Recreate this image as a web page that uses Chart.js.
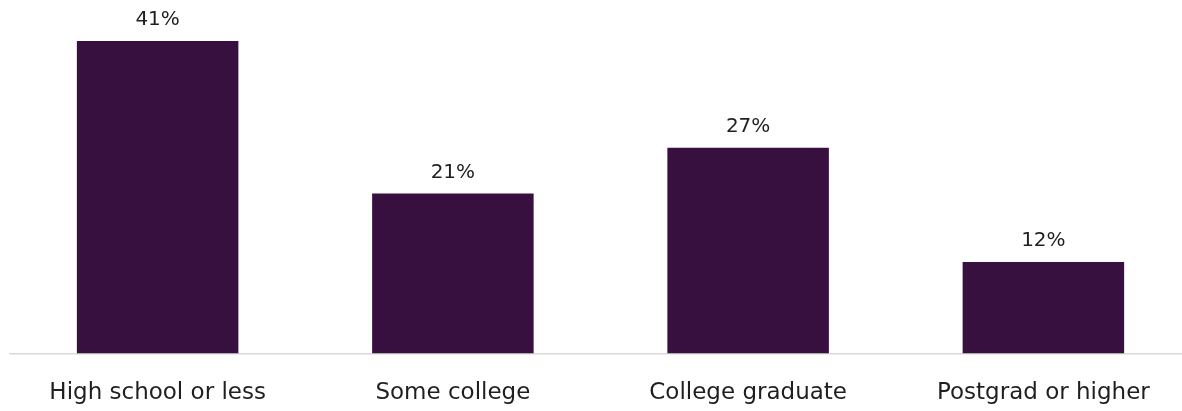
<!DOCTYPE html>
<html>
<head>
<meta charset="utf-8">
<script src="https://cdn.jsdelivr.net/npm/chart.js@4"></script>
<style>
    html, body { margin: 0; padding: 0; background: #fff; overflow: hidden; }
    #wrap { width: 1191px; height: 411px; }
</style>
</head>
<body>
<div id="wrap"><canvas id="eduChart" width="1191" height="411"></canvas></div>
<script>
// Share by education level
const categories = ['High school or less', 'Some college', 'College graduate', 'Postgrad or higher'];
const shares = [41, 21, 27, 12];

const barColor = '#37103f';
const textColor = '#1f1f1f';

// Draws the value above each bar
const valueLabels = {
    id: 'valueLabels',
    afterDatasetsDraw(chart) {
        const ctx = chart.ctx;
        const meta = chart.getDatasetMeta(0);
        ctx.save();
        ctx.font = '20px "DejaVu Sans"';
        ctx.fillStyle = textColor;
        ctx.textAlign = 'center';
        ctx.textBaseline = 'middle';
        meta.data.forEach((bar, i) => {
            ctx.fillText(shares[i] + '%', bar.x, bar.y - 21);
        });
        ctx.restore();
    }
};

function createChart() {
    const ctx = document.getElementById('eduChart').getContext('2d');

    new Chart(ctx, {
        type: 'bar',
        data: {
            labels: categories,
            datasets: [{
                data: shares,
                backgroundColor: barColor,
                borderWidth: 0,
                categoryPercentage: 1,
                barPercentage: 0.547
            }]
        },
        options: {
            responsive: false,
            animation: false,
            layout: {
                padding: { left: 10, right: 0, top: 10.6, bottom: 0 }
            },
            plugins: {
                legend: { display: false },
                tooltip: { enabled: false }
            },
            scales: {
                x: {
                    grid: { display: false },
                    border: { display: true, color: '#d9d9d9', width: 1.5 },
                    ticks: {
                        color: textColor,
                        font: { family: '"DejaVu Sans"', size: 23 },
                        padding: 18,
                        maxRotation: 0
                    },
                    afterFit: function(scale) {
                        scale.height = 57.5;
                    }
                },
                y: {
                    display: false,
                    min: 0,
                    max: 45
                }
            }
        },
        plugins: [valueLabels]
    });
}

window.addEventListener('load', createChart);
</script>
</body>
</html>
